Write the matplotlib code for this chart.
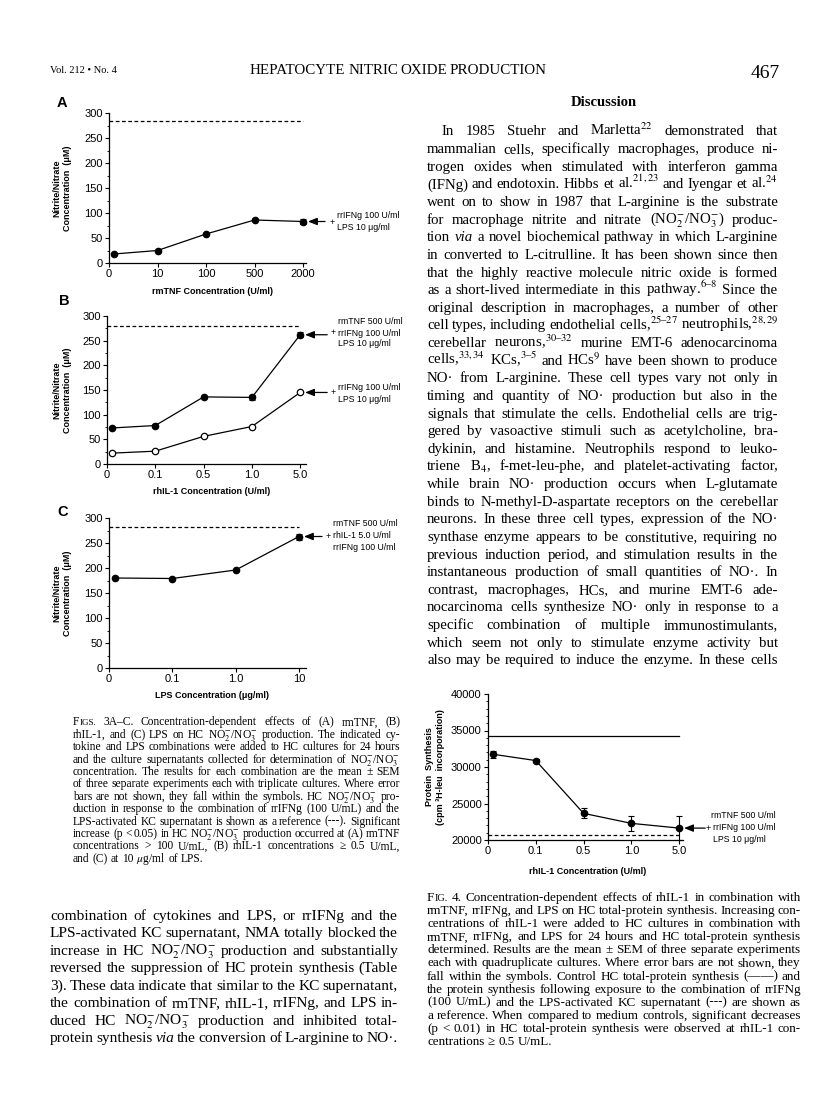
import matplotlib
matplotlib.use('Agg')
import matplotlib.pyplot as plt
from matplotlib.ticker import MultipleLocator

W, H = 816, 1118
SANS = 'Liberation Sans'
SERIF = 'Liberation Serif'
plt.rcParams['font.family'] = SERIF
plt.rcParams['mathtext.fontset'] = 'stix'

# --- values ---
tnf_labels = ['0', '10', '100', '500', '2000']
tnf_nox = [18, 25, 58, 86, 83]
tnf_err = [0, 0, 0, 0, 5]
tnf_ref = 284

il1_labels = ['0', '0.1', '0.5', '1.0', '5.0']
il1_combo_nox = [73, 78, 136, 135, 262]
il1_combo_err = [0, 3, 0, 5, 5]
il1_ifn_nox = [22, 26, 56, 76, 145]
il1_ref = 280

lps_labels = ['0', '0.1', '1.0', '10']
lps_nox = [180, 179, 196, 263]
lps_err = [0, 0, 0, 6]
lps_ref = 282

prot_labels = ['0', '0.1', '0.5', '1.0', '5.0']
prot_synth = [31750, 30880, 23650, 22280, 21630]
prot_err = [500, 150, 680, 1070, 1600]
prot_control = 34300
prot_ref = 20650

# --- page text ---
discussion = [
    "In 1985 Stuehr and Marletta$^{22}$ demonstrated that",
    "mammalian cells, specifically macrophages, produce ni-",
    "trogen oxides when stimulated with interferon gamma",
    "(IFNg) and endotoxin. Hibbs et al.$^{21,23}$ and Iyengar et al.$^{24}$",
    "went on to show in 1987 that L-arginine is the substrate",
    "for macrophage nitrite and nitrate (NO$_2^{-}$/NO$_3^{-}$) produc-",
    "tion *via* a novel biochemical pathway in which L-arginine",
    "in converted to L-citrulline. It has been shown since then",
    "that the highly reactive molecule nitric oxide is formed",
    "as a short-lived intermediate in this pathway.$^{6–8}$ Since the",
    "original description in macrophages, a number of other",
    "cell types, including endothelial cells,$^{25–27}$ neutrophils,$^{28,29}$",
    "cerebellar neurons,$^{30–32}$ murine EMT-6 adenocarcinoma",
    "cells,$^{33,34}$ KCs,$^{3–5}$ and HCs$^{9}$ have been shown to produce",
    "NO· from L-arginine. These cell types vary not only in",
    "timing and quantity of NO· production but also in the",
    "signals that stimulate the cells. Endothelial cells are trig-",
    "gered by vasoactive stimuli such as acetylcholine, bra-",
    "dykinin, and histamine. Neutrophils respond to leuko-",
    "triene B$_4$, f-met-leu-phe, and platelet-activating factor,",
    "while brain NO· production occurs when L-glutamate",
    "binds to N-methyl-D-aspartate receptors on the cerebellar",
    "neurons. In these three cell types, expression of the NO·",
    "synthase enzyme appears to be constitutive, requiring no",
    "previous induction period, and stimulation results in the",
    "instantaneous production of small quantities of NO·. In",
    "contrast, macrophages, HCs, and murine EMT-6 ade-",
    "nocarcinoma cells synthesize NO· only in response to a",
    "specific combination of multiple immunostimulants,",
    "which seem not only to stimulate enzyme activity but",
    "also may be required to induce the enzyme. In these cells",
]

left_body = [
    "combination of cytokines and LPS, or rrIFNg and the",
    "LPS-activated KC supernatant, NMA totally blocked the",
    "increase in HC NO$_2^{-}$/NO$_3^{-}$ production and substantially",
    "reversed the suppression of HC protein synthesis (Table",
    "3). These data indicate that similar to the KC supernatant,",
    "the combination of rmTNF, rhIL-1, rrIFNg, and LPS in-",
    "duced HC NO$_2^{-}$/NO$_3^{-}$ production and inhibited total-",
    "protein synthesis *via* the conversion of L-arginine to NO·.",
]

fig3_caption = [
    "~FIGS. 3A–C. Concentration-dependent effects of (A) rmTNF, (B)",
    "rhIL-1, and (C) LPS on HC NO$_2^{-}$/NO$_3^{-}$ production. The indicated cy-",
    "tokine and LPS combinations were added to HC cultures for 24 hours",
    "and the culture supernatants collected for determination of NO$_2^{-}$/NO$_3^{-}$",
    "concentration. The results for each combination are the mean ± SEM",
    "of three separate experiments each with triplicate cultures. Where error",
    "bars are not shown, they fall within the symbols. HC NO$_2^{-}$/NO$_3^{-}$ pro-",
    "duction in response to the combination of rrIFNg (100 U/mL) and the",
    "LPS-activated KC supernatant is shown as a reference (---). Significant",
    "increase (p < 0.05) in HC NO$_2^{-}$/NO$_3^{-}$ production occurred at (A) rmTNF",
    "concentrations > 100 U/mL, (B) rhIL-1 concentrations ≥ 0.5 U/mL,",
    "and (C) at 10 $\\mu$g/ml of LPS.",
]

fig4_caption = [
    "~FIG. 4. Concentration-dependent effects of rhIL-1 in combination with",
    "rmTNF, rrIFNg, and LPS on HC total-protein synthesis. Increasing con-",
    "centrations of rhIL-1 were added to HC cultures in combination with",
    "rmTNF, rrIFNg, and LPS for 24 hours and HC total-protein synthesis",
    "determined. Results are the mean ± SEM of three separate experiments",
    "each with quadruplicate cultures. Where error bars are not shown, they",
    "fall within the symbols. Control HC total-protein synthesis (——) and",
    "the protein synthesis following exposure to the combination of rrIFNg",
    "(100 U/mL) and the LPS-activated KC supernatant (---) are shown as",
    "a reference. When compared to medium controls, significant decreases",
    "(p < 0.01) in HC total-protein synthesis were observed at rhIL-1 con-",
    "centrations ≥ 0.5 U/mL.",
]

fig = plt.figure(figsize=(W / 100, H / 100), dpi=100)
renderer = fig.canvas.get_renderer()


def ftext(x, y, s, **kw):
    return fig.text(x / W, 1 - y / H, s, **kw)


# ---------- text helpers (justified lines, measured word by word) ----------
def word_parts(w):
    if w.startswith('~'):  # small caps
        return [(w[1], 1.0, 'normal'), (w[2:], 0.78, 'normal')]
    if w.startswith('*') and w.endswith('*'):
        return [(w[1:-1], 1.0, 'italic')]
    return [(w, 1.0, 'normal')]


def make_words(line, size):
    words = []
    for w in line.split():
        arts = [fig.text(0, 0, s, fontsize=size * f, style=st, va='baseline')
                for s, f, st in word_parts(w)]
        widths = [a.get_window_extent(renderer).width for a in arts]
        words.append((arts, widths))
    return words


def natural_width(line, size):
    words = make_words(line, size)
    total = sum(sum(ws) for _, ws in words)
    for arts, _ in words:
        for a in arts:
            a.remove()
    return total + (len(words) - 1) * 0.2 * size / 0.72


def text_line(line, x0, x1, y, size, justify=True):
    words = make_words(line, size)
    total = sum(sum(ws) for _, ws in words)
    if justify and len(words) > 1:
        gap = (x1 - x0 - total) / (len(words) - 1)
    else:
        gap = 0.25 * size / 0.72
    base = y + 0.3 * size / 0.72
    x = x0
    for arts, ws in words:
        for a, w in zip(arts, ws):
            a.set_position((x / W, 1 - base / H))
            x += w
        x += gap


def text_block(lines, x0, x1, y0, step, size, indent=0, last_justified=True):
    need = max(natural_width(l, size) + (indent if i == 0 else 0)
               for i, l in enumerate(lines[:-1]))
    if need > x1 - x0:
        size *= (x1 - x0) / need
    for i, line in enumerate(lines):
        last = i == len(lines) - 1
        text_line(line, x0 + (indent if i == 0 else 0), x1, y0 + i * step, size,
                  justify=(not last) or last_justified)


# ---------- chart helpers ----------
def make_axes(left, top, right, bottom, labels, pad, ylim, major, minor):
    ax = fig.add_axes([left / W, 1 - bottom / H, (right - left) / W, (bottom - top) / H])
    ax.set_xlim(0, len(labels) - 1 + pad)
    ax.set_ylim(*ylim)
    ax.set_xticks(range(len(labels)), labels)
    ax.yaxis.set_major_locator(MultipleLocator(major))
    ax.yaxis.set_minor_locator(MultipleLocator(minor))
    ax.spines[['top', 'right']].set_visible(False)
    ax.spines[['left', 'bottom']].set_linewidth(0.9)
    ax.tick_params(which='major', length=3, width=0.8, labelsize=8, pad=1.5,
                   labelfontfamily=SANS)
    ax.tick_params(which='minor', length=1.6, width=0.6)
    return ax


def xpos(n):
    # first point sits just right of the axis
    return [0.1] + list(range(1, n))


def curve(ax, ys, err=None, filled=True):
    xs = xpos(len(ys))
    ax.plot(xs, ys, '-o', color='black', lw=0.9, ms=4.6,
            mfc='black' if filled else 'white', mec='black', mew=0.9,
            clip_on=False, zorder=3)
    if err is not None:
        ax.errorbar(xs, ys, yerr=err, fmt='none', ecolor='black', elinewidth=0.8,
                    capsize=2.5, capthick=0.8, clip_on=False, zorder=2)


def ref_line(ax, n, y, dashed=True):
    ax.plot([0, n - 1], [y, y], color='black', lw=0.9,
            ls=(0, (3, 2)) if dashed else '-', zorder=1)


def pointer(ax, x, y, tail_px):
    ax.annotate('', xy=(x, y), xytext=(tail_px * 0.72, 0), textcoords='offset points',
                arrowprops=dict(arrowstyle='-|>,head_length=0.55,head_width=0.22',
                                color='black', lw=0.9, shrinkA=0, shrinkB=3.5,
                                mutation_scale=10),
                annotation_clip=False)


def note(x, y, s, ha='left'):
    ftext(x, y, s, family=SANS, fontsize=6.3, va='center', ha=ha)


def ylab(x, y, s):
    ftext(x, y, s, family=SANS, weight='bold', fontsize=6.5, rotation=90,
          ha='center', va='center', multialignment='center', linespacing=1.25)


def xlab(x, y, s):
    ftext(x, y, s, family=SANS, weight='bold', fontsize=6.5, ha='center', va='center')


def letter(x, y, s):
    ftext(x, y, s, family=SANS, weight='bold', fontsize=10.5, ha='center', va='center')


# ---------- Fig 3A ----------
ax = make_axes(109, 113, 306, 263, tnf_labels, 0.06, (0, 300), 50, 25)
ref_line(ax, len(tnf_labels), tnf_ref)
curve(ax, tnf_nox, tnf_err)
pointer(ax, xpos(5)[-1], tnf_nox[-1], 22)
letter(62, 103, 'A')
ylab(62, 188, 'Nitrite/Nitrate\nConcentration  (μM)')
xlab(213, 291, 'rmTNF Concentration (U/ml)')
note(337, 216, 'rrIFNg 100 U/ml')
note(335, 222, '+', ha='right')
note(337, 227, 'LPS 10 μg/ml')

# ---------- Fig 3B ----------
ax = make_axes(107, 316, 306, 464, il1_labels, 0.12, (0, 300), 50, 25)
ref_line(ax, len(il1_labels), il1_ref)
curve(ax, il1_combo_nox, il1_combo_err)
curve(ax, il1_ifn_nox, filled=False)
pointer(ax, xpos(5)[-1], il1_combo_nox[-1], 27)
pointer(ax, xpos(5)[-1], il1_ifn_nox[-1], 27)
letter(64, 301, 'B')
ylab(62, 390, 'Nitrite/Nitrate\nConcentration  (μM)')
xlab(212, 492, 'rhIL-1 Concentration (U/ml)')
note(338, 321, 'rmTNF 500 U/ml')
note(336, 333, '+', ha='right')
note(338, 333, 'rrIFNg 100 U/ml')
note(338, 344, 'LPS 10 μg/ml')
note(338, 387, 'rrIFNg 100 U/ml')
note(336, 393, '+', ha='right')
note(338, 399, 'LPS 10 μg/ml')

# ---------- Fig 3C ----------
ax = make_axes(109, 518, 306, 668, lps_labels, 0.11, (0, 300), 50, 25)
ref_line(ax, len(lps_labels), lps_ref)
curve(ax, lps_nox, lps_err)
pointer(ax, xpos(4)[-1], lps_nox[-1], 23)
letter(63, 512, 'C')
ylab(62, 593, 'Nitrite/Nitrate\nConcentration  (μM)')
xlab(212, 696, 'LPS Concentration (μg/ml)')
note(333, 523, 'rmTNF 500 U/ml')
note(331, 536, '+', ha='right')
note(333, 536, 'rhIL-1 5.0 U/ml')
note(333, 548, 'rrIFNg 100 U/ml')

# ---------- Fig 4 ----------
ax = make_axes(488, 694, 683, 840, prot_labels, 0.08, (20000, 40000), 5000, 1000)
ref_line(ax, len(prot_labels), prot_control, dashed=False)
ref_line(ax, len(prot_labels), prot_ref)
curve(ax, prot_synth, prot_err)
pointer(ax, xpos(5)[-1], prot_synth[-1], 26)
ylab(435, 767, 'Protein  Synthesis\n(cpm ³H-leu  incorporation)')
xlab(588, 871, 'rhIL-1 Concentration (U/ml)')
note(711, 816, 'rmTNF 500 U/ml')
note(711, 828, '+', ha='right')
note(713, 828, 'rrIFNg 100 U/ml')
note(713, 840, 'LPS 10 μg/ml')

# ---------- running head ----------
ftext(50, 73, 'Vol. 212 • No. 4', fontsize=7.5, va='baseline')
text_line('HEPATOCYTE  NITRIC  OXIDE  PRODUCTION', 250, 547, 70, 10.8)
ftext(780, 78, '467', fontsize=14, ha='right', va='baseline')
ftext(604, 103, 'Discussion', fontsize=10.5, weight='bold', ha='center', va='center')

# ---------- body text and captions ----------
text_block(discussion, 427, 778, 131, 17.63, 11.6, indent=15)
text_block(left_body, 50, 398, 915, 17.5, 11.6)
text_block(fig3_caption, 73, 400, 722, 12.4, 9.0, last_justified=False)
text_block(fig4_caption, 427, 801, 897, 13.1, 9.6, last_justified=False)

fig.savefig('out.png', dpi=100)
